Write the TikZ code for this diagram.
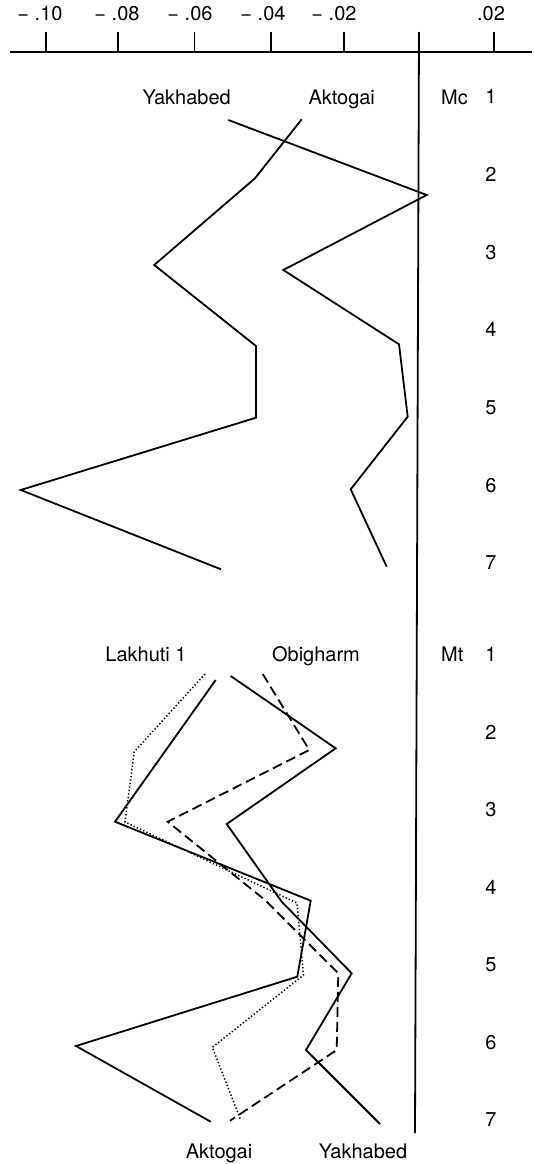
\documentclass[tikz,border=0pt]{standalone}
\usepackage{fontspec}
\setmainfont{TeX Gyre Heros}
\usetikzlibrary{positioning}

\begin{document}
\begin{tikzpicture}[x=1pt,y=-1pt,
  lbl/.style={font=\fontsize{20}{24}\selectfont,inner sep=0pt,anchor=base},
  axis/.style={line width=1.8pt},
  series/.style={line width=1.8pt,line join=miter},
  dashser/.style={series,dash pattern=on 10pt off 5pt},
  dotser/.style={line width=1.5pt,dash pattern=on 1.3pt off 2.2pt}]
  \useasboundingbox (0,0) rectangle (534,1164);
  % The scale on top, with the zero line running down the whole picture
  \coordinate (axleft) at (10,51.7);
  \coordinate (axright) at (532,51.7);
  \coordinate (zerotop) at (419,32);
  \coordinate (zerobot) at (415,1133);
  \draw[axis] (axleft) -- (axright);
  \draw[axis] (zerotop) -- (zerobot);
  \foreach \tx/\lx/\txt [count=\i] in {46/40/− .10,118/117/− .08,194.5/190/− .06,271/263/− .04,344/334/− .02,494/491/.02} {
    \draw[axis] (\tx,32) -- (\tx,51.7);
    \node[lbl] (tick\i) at (\lx,20.7) {\txt};
  }
  % Upper block (Mc)
  \node[lbl] (labyak) at (186.7,104) {Yakhabed};
  \node[lbl] (labakt) at (341.7,104) {Aktogai};
  \node[lbl,anchor=base west] (mc) at (441,104) {Mc};
  \foreach \k in {1,...,7}
    \node[lbl] (mcrow\k) at (491,{97+77.7*(\k-1)+6.7}) {\k};
  \draw[series] (228.3,120) -- (426.7,195) -- (283.3,270) -- (399,344.3)
    -- (407.7,416.7) -- (350.7,489.3) -- (386.7,566.7);
  \draw[series] (301.7,119.3) -- (255,178.3) -- (154.2,265) -- (256,346)
    -- (256,417.7) -- (20.7,490) -- (221,569.3);
  % Lower block (Mt)
  \node[lbl] (lablak) at (146,661) {Lakhuti 1};
  \node[lbl] (labobi) at (316,661) {Obigharm};
  \node[lbl,anchor=base west] (mt) at (441,661) {Mt};
  \foreach \k in {1,...,7}
    \node[lbl] (mtrow\k) at (491,{655+77.5*(\k-1)+6.7}) {\k};
  \draw[dotser] (205,674) -- (134.3,751.7) -- (125,822) -- (297,903)
    -- (303.5,975) -- (212.3,1047.3) -- (240.7,1120);
  \draw[series] (215.7,680) -- (115,821.7) -- (310.7,900.7) -- (297.3,976.7)
    -- (76,1046) -- (210.7,1121.7);
  \draw[series] (230.7,676) -- (335.7,748.3) -- (226.7,824) -- (281.7,901.7)
    -- (351.7,973.3) -- (306,1050) -- (380,1124);
  \draw[dashser] (262.7,674) -- (309.3,750) -- (167.7,821.7) -- (265,900)
    -- (338.3,973.3) -- (336.7,1050) -- (230,1120.7);
  \node[lbl] (botakt) at (219,1158) {Aktogai};
  \node[lbl] (botyak) at (363,1158) {Yakhabed};
\end{tikzpicture}
\end{document}
